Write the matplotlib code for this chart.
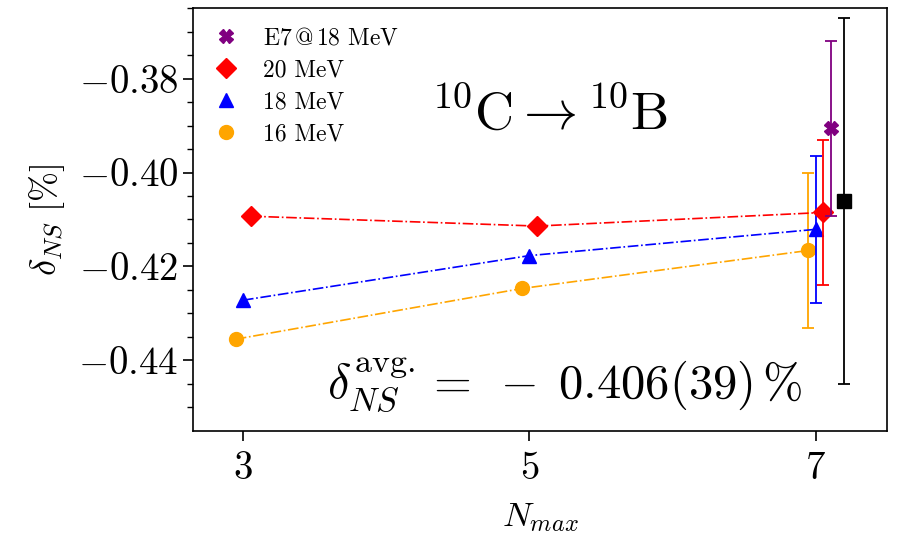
import matplotlib
matplotlib.use("Agg")
import matplotlib.pyplot as plt
from matplotlib.lines import Line2D

plt.rcParams["font.family"] = "serif"
plt.rcParams["font.serif"] = ["cmr10"]
plt.rcParams["mathtext.fontset"] = "cm"
plt.rcParams["axes.formatter.use_mathtext"] = True

# --- data ---------------------------------------------------------------
nmax = [3, 5, 7]

y_16 = [-0.4355, -0.4247, -0.4166]
err_16 = 0.0166
y_18 = [-0.4272, -0.4177, -0.4121]
err_18 = 0.0157
y_20 = [-0.4093, -0.4114, -0.4085]
err_20 = 0.0154

y_e7 = -0.3906
err_e7 = 0.0187

avg_val = -0.406
avg_err = 0.039

# --- figure -------------------------------------------------------------
fig = plt.figure(figsize=(8.97, 5.36), dpi=100)
ax = fig.add_axes([0.215, 0.1965, 0.774, 0.788])

series = [
    (y_16, err_16, -0.05, "orange", "o", 10, "16 MeV"),
    (y_18, err_18, 0.0, "blue", "^", 10, "18 MeV"),
    (y_20, err_20, 0.055, "red", "D", 10, "20 MeV"),
]

for yv, err, dx, col, mk, ms, lab in series:
    xs = [n + dx for n in nmax]
    ax.plot(xs, yv, ls="-.", lw=1.2, color=col, marker=mk, ms=ms)
    ax.errorbar(xs[-1], yv[-1], yerr=err, fmt="none", ecolor=col,
                elinewidth=1.3, capsize=4.5, capthick=1.3)

ax.errorbar(7.105, y_e7, yerr=err_e7, fmt="X", color="purple", ms=10,
            elinewidth=1.3, capsize=4.5, capthick=1.3)
ax.errorbar(7.2, avg_val, yerr=avg_err, fmt="s", color="black", ms=10,
            elinewidth=1.3, capsize=4.5, capthick=1.3)

ax.set_xlim(2.65, 7.5)
ax.set_ylim(-0.455, -0.365)
ax.set_xticks([3, 5, 7])
ax.set_yticks([-0.44, -0.42, -0.40, -0.38])
ax.set_yticklabels([r"$-0.44$", r"$-0.42$", r"$-0.40$", r"$-0.38$"])
ax.set_xticklabels([r"$\mathbf{3}$", r"$\mathbf{5}$", r"$\mathbf{7}$"])
ax.set_yticks([-0.45 + 0.005 * i for i in range(18)], minor=True)
ax.tick_params(axis="both", which="major", labelsize=28, length=7, width=1.2)
ax.tick_params(axis="x", which="major", pad=8)
ax.tick_params(axis="y", which="minor", length=4, width=1.0)
for sp in ax.spines.values():
    sp.set_linewidth(1.2)

ax.set_xlabel(r"$N_{max}$", fontsize=25, labelpad=10)
ax.set_ylabel(r"$\delta_{NS}\ [\%]$", fontsize=26, labelpad=8)

ax.text(0.514, 0.75, r"$^{10}\mathrm{C} \rightarrow {}^{10}\mathrm{B}$",
        transform=ax.transAxes, fontsize=39, ha="center", va="center")
ax.text(0.535, 0.11,
        r"$\delta_{NS}^{\mathrm{avg.}} = \;-\;0.406(39)\,\mathsf{\%}$",
        transform=ax.transAxes, fontsize=35, ha="center", va="center")

handles = [
    Line2D([], [], ls="none", marker="X", color="purple", ms=10),
    Line2D([], [], ls="none", marker="D", color="red", ms=10),
    Line2D([], [], ls="none", marker="^", color="blue", ms=10),
    Line2D([], [], ls="none", marker="o", color="orange", ms=10),
]
labels = [r"E7$\,$@$\,$18 MeV", "20 MeV", "18 MeV", "16 MeV"]
ax.legend(handles, labels, loc="upper left", frameon=False, fontsize=17,
          handlelength=1.2, handletextpad=0.95, labelspacing=0.42,
          borderaxespad=0.5, borderpad=0.3)

fig.savefig("out.png", dpi=100)
plt.close(fig)
